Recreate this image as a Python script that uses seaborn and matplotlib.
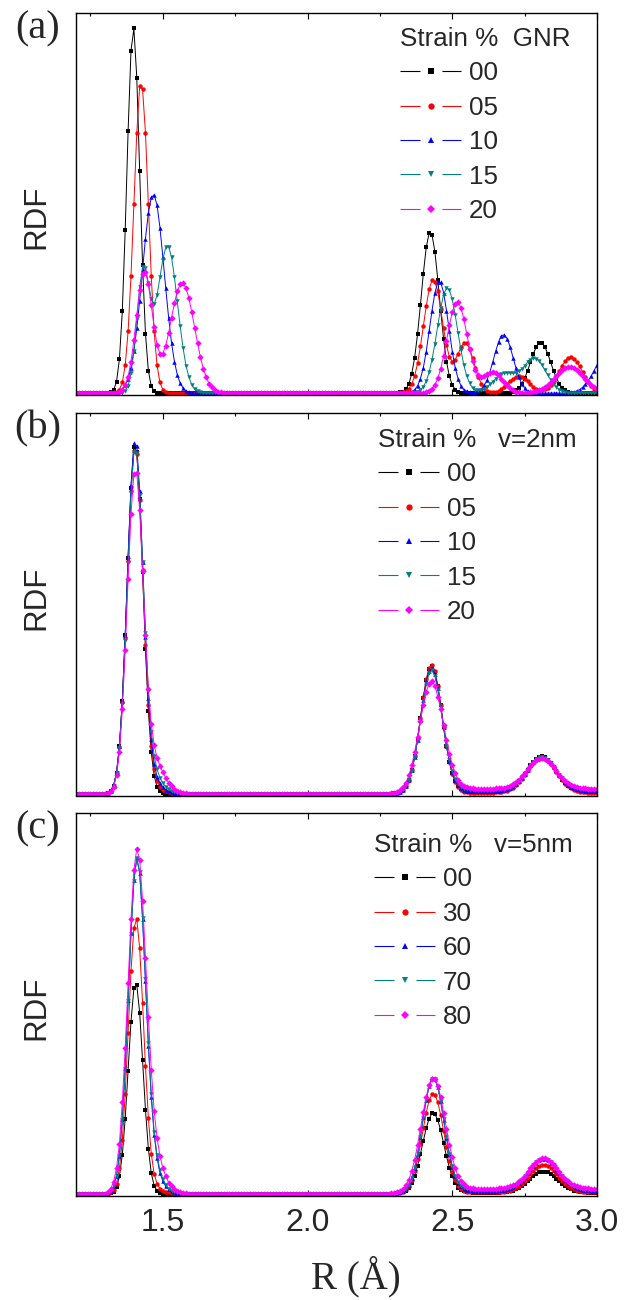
import numpy as np
import pandas as pd
import matplotlib
matplotlib.use("Agg")
import matplotlib.pyplot as plt
import seaborn as sns
from matplotlib.lines import Line2D
from matplotlib.ticker import MultipleLocator, NullLocator, FormatStrFormatter

# ---------------------------------------------------------------------------
# Data: RDF on a 0.01 Å grid (1.20 ... 3.00 Å).
# Values are listed for R = 1.31..1.70 (first shell, 40 values) and
# R = 2.21..3.00 (second / third shells, 80 values); elsewhere the RDF is 0.
# Units: arbitrary (percent of the panel height).
# ---------------------------------------------------------------------------
R_START, R_STEP, N_R = 1.20, 0.01, 181
SEG1_START, SEG2_START = 1.31, 2.21

# ---------------- panel (a): GNR ----------------
a_strains = ["00", "05", "10", "15", "20"]
a00_1 = [0, 0.2, 0.8, 3.0, 8.9, 21.5, 42.9, 68.8, 90.0, 95.8,
         82.9, 58.4, 33.6, 15.6, 5.9, 1.8, 0.5, 0.1, 0, 0,
         0, 0, 0, 0, 0, 0, 0, 0, 0, 0,
         0, 0, 0, 0, 0, 0, 0, 0, 0, 0]
a00_2 = [0, 0, 0, 0, 0, 0, 0, 0, 0, 0,
         0.1, 0.2, 0.4, 1.1, 2.4, 5.1, 9.3, 15.5, 23.2, 31.4,
         38.3, 42.0, 41.6, 37.1, 29.8, 21.6, 14.2, 8.3, 4.4, 2.1,
         0.9, 0.3, 0.1, 0, 0, 0, 0, 0, 0, 0,
         0, 0, 0, 0, 0, 0, 0, 0, 0.1, 0.1,
         0.3, 0.7, 1.3, 2.4, 3.9, 5.8, 8.1, 10.3, 12.1, 13.2,
         13.2, 12.1, 10.3, 8.1, 5.8, 3.9, 2.4, 1.3, 0.7, 0.3,
         0.1, 0.1, 0, 0, 0, 0, 0, 0, 0, 0]
a05_1 = [0, 0, 0.1, 0.2, 0.9, 2.8, 7.3, 16.2, 30.8, 49.8,
         68.4, 80.6, 79.8, 68.4, 49.8, 30.8, 16.2, 7.3, 2.8, 0.9,
         0.2, 0.1, 0, 0, 0, 0, 0, 0, 0, 0,
         0, 0, 0, 0, 0, 0, 0, 0, 0, 0]
a05_2 = [0, 0, 0, 0, 0, 0, 0, 0, 0, 0,
         0, 0.1, 0.2, 0.5, 1.2, 2.4, 4.5, 7.8, 12.3, 17.5,
         22.8, 27.3, 29.6, 29.3, 26.7, 22.0, 17.0, 12.6, 9.5, 8.3,
         8.8, 10.3, 12.0, 13.2, 13.1, 11.6, 9.3, 6.7, 4.3, 2.5,
         1.3, 0.6, 0.3, 0.3, 0.3, 0.6, 1.0, 1.6, 2.3, 3.1,
         3.8, 4.3, 4.5, 4.3, 3.8, 3.1, 2.3, 1.7, 1.1, 0.8,
         0.7, 1.0, 1.4, 2.1, 3.1, 4.4, 5.8, 7.2, 8.4, 9.2,
         9.4, 9.0, 8.2, 7.0, 5.5, 4.2, 2.9, 1.9, 1.2, 0.7]
a10_1 = [0, 0, 0.1, 0.2, 0.5, 1.0, 2.0, 3.8, 6.7, 11.1,
         17.0, 24.3, 32.6, 40.6, 47.3, 51.4, 52.1, 49.4, 43.5, 35.8,
         27.6, 19.8, 13.2, 8.3, 4.8, 2.6, 1.3, 0.6, 0.3, 0.1,
         0, 0, 0, 0, 0, 0, 0, 0, 0, 0]
a10_2 = [0, 0, 0, 0, 0, 0, 0, 0, 0, 0,
         0, 0, 0, 0, 0.1, 0.4, 0.9, 1.9, 3.8, 6.7,
         10.9, 16.3, 21.7, 26.4, 29.1, 29.1, 26.4, 21.7, 16.3, 10.9,
         6.7, 3.8, 1.9, 0.9, 0.5, 0.3, 0.2, 0.3, 0.6, 1.0,
         2.0, 3.4, 5.6, 8.2, 11.0, 13.5, 15.1, 15.3, 14.3, 12.1,
         9.3, 6.6, 4.2, 2.5, 1.3, 0.6, 0.3, 0.1, 0, 0,
         0, 0, 0, 0, 0, 0, 0, 0, 0, 0.1,
         0.2, 0.3, 0.6, 0.9, 1.5, 2.3, 3.3, 4.5, 5.9, 7.4]
a15_1 = [0, 0, 0, 0, 0, 0.1, 0.6, 1.9, 5.2, 11.1,
         19.4, 27.9, 33.1, 33.0, 28.9, 24.8, 23.4, 25.7, 30.4, 35.1,
         38.3, 38.5, 35.7, 30.5, 24.1, 17.5, 11.8, 7.2, 4.2, 2.2,
         1.0, 0.5, 0.2, 0.1, 0, 0, 0, 0, 0, 0]
a15_2 = [0, 0, 0, 0, 0, 0, 0, 0, 0, 0,
         0, 0, 0, 0, 0, 0.1, 0.1, 0.4, 0.8, 1.7,
         3.1, 5.5, 8.8, 13.0, 17.8, 22.3, 25.9, 27.6, 27.1, 24.6,
         20.6, 15.8, 11.3, 7.3, 4.5, 2.6, 1.3, 0.8, 0.7, 0.8,
         1.1, 1.6, 2.3, 3.0, 3.8, 4.5, 4.9, 5.3, 5.3, 5.3,
         5.3, 5.4, 5.8, 6.3, 7.2, 8.1, 8.8, 9.1, 9.0, 8.5,
         7.4, 6.1, 4.7, 3.5, 2.4, 1.5, 0.9, 0.5, 0.3, 0.1,
         0.1, 0, 0, 0, 0, 0, 0, 0, 0, 0]
a20_1 = [0, 0, 0, 0.1, 0.3, 0.8, 2.0, 4.3, 8.3, 13.9,
         20.6, 27.1, 31.2, 31.8, 28.6, 23.1, 17.3, 12.7, 10.3, 10.4,
         12.5, 15.8, 19.8, 23.6, 26.8, 28.6, 28.9, 27.6, 25.0, 21.2,
         17.2, 13.1, 9.4, 6.4, 4.1, 2.5, 1.5, 0.8, 0.4, 0.2]
a20_2 = [0, 0, 0, 0, 0, 0, 0, 0, 0, 0,
         0, 0, 0, 0, 0, 0, 0, 0, 0, 0.1,
         0.2, 0.5, 1.1, 2.1, 3.9, 6.4, 9.8, 13.7, 17.8, 21.3,
         23.5, 23.9, 22.4, 19.4, 15.6, 11.7, 8.4, 6.1, 4.7, 4.3,
         4.5, 5.0, 5.4, 5.5, 5.3, 4.7, 3.8, 2.9, 2.0, 1.3,
         0.7, 0.4, 0.2, 0.1, 0.1, 0.1, 0.2, 0.3, 0.5, 0.7,
         1.1, 1.6, 2.2, 2.9, 3.7, 4.5, 5.3, 6.0, 6.5, 6.8,
         6.8, 6.5, 6.0, 5.3, 4.5, 3.7, 2.9, 2.2, 1.6, 1.1]

# ---------------- panel (b): v = 2 nm ----------------
b_strains = ["00", "05", "10", "15", "20"]
b00_1 = [0.2, 0.7, 2.1, 5.5, 12.4, 24.4, 41.6, 61.9, 80.4, 91.0,
         89.8, 77.3, 58.1, 37.9, 21.7, 10.8, 4.7, 1.7, 0.6, 0.2,
         0, 0, 0, 0, 0, 0, 0, 0, 0, 0,
         0, 0, 0, 0, 0, 0, 0, 0, 0, 0]
b00_2 = [0, 0, 0, 0, 0, 0, 0, 0, 0, 0.1,
         0.2, 0.5, 1.0, 2.0, 3.6, 6.2, 9.8, 14.4, 19.8, 25.2,
         29.8, 32.8, 33.6, 31.9, 28.2, 23.2, 17.5, 12.6, 8.4, 5.3,
         3.3, 1.9, 1.2, 0.8, 0.6, 0.5, 0.5, 0.5, 0.5, 0.5,
         0.5, 0.5, 0.5, 0.5, 0.5, 0.5, 0.6, 0.8, 1.0, 1.3,
         1.8, 2.4, 3.2, 4.1, 5.2, 6.3, 7.4, 8.4, 9.2, 9.7,
         9.8, 9.5, 8.9, 8.1, 7.0, 5.9, 4.8, 3.7, 2.8, 2.1,
         1.6, 1.2, 0.9, 0.7, 0.6, 0.5, 0.4, 0.4, 0.4, 0.4]
b05_1 = [0.2, 0.7, 2.1, 5.4, 12.2, 24.0, 40.9, 61.1, 79.5, 90.1,
         89.2, 77.2, 58.7, 39.1, 23.4, 12.6, 6.4, 3.3, 1.8, 1.0,
         0.6, 0.4, 0.2, 0.1, 0.1, 0, 0, 0, 0, 0,
         0, 0, 0, 0, 0, 0, 0, 0, 0, 0]
b05_2 = [0, 0, 0, 0, 0, 0, 0, 0, 0, 0.1,
         0.2, 0.5, 1.0, 2.0, 3.7, 6.2, 9.9, 14.5, 19.9, 25.3,
         30.0, 33.0, 33.8, 32.1, 28.4, 23.3, 17.6, 12.6, 8.3, 5.1,
         3.0, 1.7, 0.9, 0.5, 0.3, 0.2, 0.2, 0.2, 0.2, 0.2,
         0.2, 0.2, 0.2, 0.2, 0.3, 0.3, 0.4, 0.6, 0.8, 1.1,
         1.6, 2.2, 3.0, 3.9, 4.9, 6.1, 7.2, 8.2, 8.9, 9.4,
         9.5, 9.2, 8.6, 7.8, 6.7, 5.6, 4.5, 3.5, 2.6, 1.9,
         1.4, 1.0, 0.7, 0.5, 0.4, 0.3, 0.2, 0.2, 0.2, 0.2]
b10_1 = [0.2, 0.7, 2.1, 5.5, 12.4, 24.4, 41.6, 62.3, 81.0, 92.0,
         91.3, 79.4, 60.8, 41.1, 25.2, 14.3, 7.9, 4.4, 2.7, 1.7,
         1.0, 0.6, 0.4, 0.2, 0.1, 0, 0, 0, 0, 0,
         0, 0, 0, 0, 0, 0, 0, 0, 0, 0]
b10_2 = [0, 0, 0, 0, 0, 0, 0, 0, 0, 0.1,
         0.2, 0.5, 1.0, 1.9, 3.6, 6.1, 9.6, 14.2, 19.4, 24.7,
         29.3, 32.2, 33.0, 31.4, 27.7, 22.8, 17.4, 12.5, 8.6, 5.7,
         3.5, 2.2, 1.4, 1.0, 0.8, 0.7, 0.7, 0.7, 0.7, 0.7,
         0.7, 0.7, 0.7, 0.7, 0.8, 0.8, 0.9, 1.0, 1.3, 1.6,
         2.0, 2.6, 3.3, 4.2, 5.2, 6.3, 7.4, 8.3, 9.0, 9.5,
         9.6, 9.4, 8.8, 8.0, 7.0, 5.9, 4.8, 3.9, 3.0, 2.3,
         1.8, 1.4, 1.2, 1.0, 0.9, 0.8, 0.8, 0.7, 0.7, 0.7]
b15_1 = [0.2, 0.7, 2.0, 5.3, 12.0, 23.6, 40.2, 60.5, 78.9, 89.7,
         89.5, 78.4, 60.9, 42.2, 26.9, 16.3, 10.0, 6.4, 4.2, 2.8,
         1.7, 1.1, 0.6, 0.3, 0.2, 0.1, 0, 0, 0, 0,
         0, 0, 0, 0, 0, 0, 0, 0, 0, 0]
b15_2 = [0, 0, 0, 0, 0, 0, 0, 0, 0, 0.1,
         0.2, 0.5, 1.0, 1.9, 3.5, 6.0, 9.5, 13.9, 19.1, 24.3,
         28.7, 31.6, 32.4, 30.8, 27.2, 22.6, 17.3, 12.6, 8.7, 5.9,
         3.8, 2.5, 1.7, 1.3, 1.1, 1.0, 1.0, 1.0, 1.0, 1.0,
         1.0, 1.0, 1.0, 1.0, 1.1, 1.1, 1.2, 1.3, 1.5, 1.8,
         2.3, 2.8, 3.6, 4.4, 5.4, 6.4, 7.4, 8.4, 9.1, 9.5,
         9.6, 9.4, 8.8, 8.0, 7.1, 6.0, 5.0, 4.1, 3.2, 2.6,
         2.1, 1.7, 1.4, 1.3, 1.2, 1.1, 1.1, 1.0, 1.0, 1.0]
b20_1 = [0.2, 0.6, 1.8, 4.8, 10.8, 22.1, 37.8, 56.3, 73.5, 84.0,
         84.2, 74.4, 58.6, 41.7, 27.6, 18.4, 12.8, 9.4, 7.3, 5.6,
         4.1, 2.9, 1.9, 1.2, 0.7, 0.4, 0.2, 0.1, 0, 0,
         0, 0, 0, 0, 0, 0, 0, 0, 0, 0]
b20_2 = [0, 0, 0, 0, 0, 0, 0, 0, 0.1, 0.2,
         0.5, 0.9, 1.7, 2.9, 4.8, 7.4, 10.9, 14.9, 19.1, 23.4,
         26.8, 28.9, 29.5, 28.3, 25.5, 22.1, 18.1, 14.1, 10.5, 7.6,
         5.3, 3.7, 2.6, 2.0, 1.7, 1.5, 1.4, 1.3, 1.3, 1.3,
         1.3, 1.3, 1.3, 1.3, 1.4, 1.4, 1.5, 1.6, 1.8, 2.1,
         2.5, 3.0, 3.7, 4.5, 5.4, 6.4, 7.3, 8.1, 8.8, 9.2,
         9.3, 9.1, 8.6, 7.8, 6.9, 6.0, 5.0, 4.1, 3.4, 2.8,
         2.3, 2.0, 1.7, 1.6, 1.4, 1.4, 1.3, 1.3, 1.3, 1.3]

# ---------------- panel (c): v = 5 nm ----------------
c_strains = ["00", "30", "60", "70", "80"]
c00_1 = [0, 0.1, 0.5, 1.7, 4.5, 10.2, 19.7, 32.3, 45.2, 53.9,
         54.8, 47.5, 35.0, 22.0, 11.8, 5.4, 2.1, 0.7, 0.2, 0,
         0, 0, 0, 0, 0, 0, 0, 0, 0, 0,
         0, 0, 0, 0, 0, 0, 0, 0, 0, 0]
c00_2 = [0, 0, 0, 0, 0, 0, 0, 0, 0, 0,
         0.1, 0.2, 0.4, 0.8, 1.6, 2.9, 4.7, 7.3, 10.5, 13.9,
         17.2, 19.7, 21.1, 20.9, 19.3, 16.6, 13.2, 9.8, 6.8, 4.5,
         2.8, 1.6, 0.9, 0.6, 0.4, 0.3, 0.2, 0.2, 0.2, 0.2,
         0.2, 0.2, 0.2, 0.2, 0.2, 0.2, 0.3, 0.3, 0.4, 0.6,
         0.8, 1.1, 1.5, 2.0, 2.6, 3.3, 3.9, 4.6, 5.1, 5.6,
         5.8, 5.8, 5.6, 5.1, 4.6, 3.9, 3.3, 2.6, 2.0, 1.5,
         1.1, 0.8, 0.6, 0.4, 0.3, 0.3, 0.2, 0.2, 0.2, 0.2]
c30_1 = [0.1, 0.3, 0.9, 2.6, 6.6, 14.0, 26.3, 42.1, 58.5, 69.8,
         72.2, 64.4, 50.1, 33.5, 19.9, 10.5, 5.2, 2.6, 1.3, 0.8,
         0.4, 0.3, 0.2, 0.1, 0, 0, 0, 0, 0, 0,
         0, 0, 0, 0, 0, 0, 0, 0, 0, 0]
c30_2 = [0, 0, 0, 0, 0, 0, 0, 0, 0, 0,
         0.1, 0.2, 0.5, 1.1, 2.0, 3.6, 5.9, 9.1, 13.0, 17.2,
         21.3, 24.5, 26.1, 26.0, 24.0, 20.6, 16.4, 12.3, 8.6, 5.7,
         3.5, 2.1, 1.2, 0.7, 0.5, 0.4, 0.3, 0.3, 0.3, 0.3,
         0.3, 0.3, 0.3, 0.3, 0.3, 0.4, 0.4, 0.5, 0.6, 0.8,
         1.1, 1.5, 2.0, 2.6, 3.4, 4.2, 5.1, 5.9, 6.7, 7.2,
         7.5, 7.5, 7.2, 6.7, 5.9, 5.1, 4.2, 3.4, 2.6, 2.0,
         1.5, 1.1, 0.8, 0.6, 0.5, 0.4, 0.4, 0.3, 0.3, 0.3]
c60_1 = [0.2, 0.7, 1.9, 4.7, 10.0, 19.5, 33.0, 50.9, 68.5, 82.4,
         88.1, 84.3, 72.1, 55.8, 38.9, 25.4, 15.5, 9.4, 5.5, 3.3,
         1.9, 1.1, 0.6, 0.3, 0.2, 0.1, 0, 0, 0, 0,
         0, 0, 0, 0, 0, 0, 0, 0, 0, 0]
c60_2 = [0, 0, 0, 0, 0, 0, 0, 0, 0, 0,
         0.1, 0.3, 0.6, 1.2, 2.3, 4.1, 6.8, 10.5, 15.0, 20.0,
         24.7, 28.4, 30.3, 30.2, 28.0, 24.2, 19.4, 14.6, 10.3, 7.0,
         4.5, 2.9, 1.9, 1.3, 1.0, 0.9, 0.8, 0.8, 0.8, 0.8,
         0.8, 0.8, 0.8, 0.8, 0.8, 0.9, 0.9, 1.0, 1.2, 1.4,
         1.7, 2.2, 2.8, 3.5, 4.4, 5.3, 6.3, 7.3, 8.1, 8.7,
         9.1, 9.1, 8.7, 8.1, 7.3, 6.3, 5.3, 4.4, 3.5, 2.8,
         2.2, 1.7, 1.4, 1.2, 1.0, 0.9, 0.9, 0.8, 0.8, 0.8]
c70_1 = [0.2, 0.7, 1.9, 4.7, 9.9, 19.4, 32.8, 50.7, 68.2, 82.2,
         88.1, 84.4, 72.4, 56.4, 39.7, 26.3, 16.3, 10.1, 6.1, 3.8,
         2.2, 1.2, 0.7, 0.4, 0.2, 0.1, 0, 0, 0, 0,
         0, 0, 0, 0, 0, 0, 0, 0, 0, 0]
c70_2 = [0, 0, 0, 0, 0, 0, 0, 0, 0, 0,
         0.1, 0.3, 0.6, 1.2, 2.3, 4.1, 6.7, 10.4, 14.9, 19.9,
         24.5, 28.2, 30.1, 30.0, 27.9, 24.2, 19.5, 14.8, 10.5, 7.2,
         4.7, 3.1, 2.1, 1.5, 1.2, 1.0, 0.9, 0.9, 0.9, 0.9,
         0.9, 0.9, 0.9, 0.9, 0.9, 1.0, 1.0, 1.1, 1.3, 1.5,
         1.8, 2.3, 2.9, 3.6, 4.5, 5.4, 6.4, 7.4, 8.2, 8.8,
         9.2, 9.2, 8.8, 8.2, 7.4, 6.4, 5.4, 4.5, 3.6, 2.9,
         2.3, 1.8, 1.5, 1.3, 1.1, 1.0, 1.0, 0.9, 0.9, 0.9]
c80_1 = [0.5, 1.3, 3.1, 6.7, 13.1, 24.0, 38.3, 55.3, 72.1, 85.1,
         90.6, 87.7, 77.0, 62.0, 46.3, 32.6, 21.8, 14.6, 9.9, 6.8,
         4.6, 2.9, 1.9, 1.2, 0.7, 0.4, 0.2, 0.1, 0, 0,
         0, 0, 0, 0, 0, 0, 0, 0, 0, 0]
c80_2 = [0, 0, 0, 0, 0, 0, 0, 0, 0.1, 0.1,
         0.3, 0.6, 1.2, 2.2, 3.7, 6.0, 8.9, 12.7, 17.0, 21.4,
         25.4, 28.5, 30.0, 30.1, 28.4, 25.4, 21.3, 17.1, 12.9, 9.5,
         6.7, 4.6, 3.3, 2.4, 1.8, 1.6, 1.4, 1.3, 1.3, 1.3,
         1.3, 1.3, 1.3, 1.3, 1.3, 1.4, 1.4, 1.5, 1.7, 1.9,
         2.2, 2.6, 3.2, 3.9, 4.7, 5.7, 6.6, 7.6, 8.4, 8.9,
         9.3, 9.3, 8.9, 8.4, 7.6, 6.6, 5.7, 4.7, 3.9, 3.2,
         2.6, 2.2, 1.9, 1.7, 1.5, 1.4, 1.4, 1.3, 1.3, 1.3]

panel_tags = ["GNR", "v=2nm", "v=5nm"]
panel_letters = ["(a)", "(b)", "(c)"]

# ---------------------------------------------------------------------------
R_grid = np.round(R_START + R_STEP * np.arange(N_R), 2)


def assemble(seg1, seg2):
    y = np.zeros(N_R)
    for start, seg in ((SEG1_START, seg1), (SEG2_START, seg2)):
        i = int(round((start - R_START) / R_STEP))
        n = min(len(seg), N_R - i)
        y[i:i + n] = np.asarray(seg[:n], dtype=float)
    return y


def make_df(strains, segs):
    frames = []
    for s, (s1, s2) in zip(strains, segs):
        frames.append(pd.DataFrame({"R": R_grid, "RDF": assemble(s1, s2), "Strain": s}))
    return pd.concat(frames, ignore_index=True)


panels = [
    (a_strains, [(a00_1, a00_2), (a05_1, a05_2), (a10_1, a10_2), (a15_1, a15_2), (a20_1, a20_2)]),
    (b_strains, [(b00_1, b00_2), (b05_1, b05_2), (b10_1, b10_2), (b15_1, b15_2), (b20_1, b20_2)]),
    (c_strains, [(c00_1, c00_2), (c30_1, c30_2), (c60_1, c60_2), (c70_1, c70_2), (c80_1, c80_2)]),
]

colors = ["#000000", "#ff0000", "#0000ff", "#008080", "#ff00ff"]
markers = ["s", "o", "^", "v", "D"]

sns.set_style("ticks")
plt.rcParams["font.family"] = ["Liberation Sans", "DejaVu Sans"]
plt.rcParams["lines.scale_dashes"] = False
SERIF = ["Liberation Serif", "DejaVu Serif"]

W, H = 624, 1300
fig = plt.figure(figsize=(W / 100, H / 100), dpi=100)

ax_left, ax_right = 76, 597
ax_tops = [12.5, 413, 813]
ax_h = 382.5
legend_left = [400, 378, 374]
legend_top_off = [14.5, 15, 20]
title_gap = ["  ", "   ", "   "]
ylabel_y = [0.466, 0.518, 0.49]

for k, (strains, segs) in enumerate(panels):
    top = ax_tops[k]
    ax = fig.add_axes([ax_left / W, 1 - (top + ax_h) / H, (ax_right - ax_left) / W, ax_h / H])
    df = make_df(strains, segs)
    sns.lineplot(data=df, x="R", y="RDF", hue="Strain", style="Strain",
                 hue_order=strains, style_order=strains, palette=colors,
                 markers=markers, dashes=False, estimator=None, sort=False,
                 linewidth=0.7, markersize=3.2, markeredgewidth=0,
                 legend=False, ax=ax)
    ax.set_xlim(1.2, 3.0)
    ax.set_ylim(-0.5, 100)
    ax.xaxis.set_major_locator(MultipleLocator(0.5))
    ax.xaxis.set_minor_locator(MultipleLocator(0.25))
    ax.xaxis.set_major_formatter(FormatStrFormatter("%.1f"))
    ax.yaxis.set_major_locator(NullLocator())
    ax.yaxis.set_minor_locator(NullLocator())
    ax.tick_params(axis="x", which="both", direction="in", top=True, bottom=True,
                   width=0.8, color="black", labelsize=23, pad=9)
    ax.tick_params(axis="x", which="major", length=4.5)
    ax.tick_params(axis="x", which="minor", length=2.5)
    if k < 2:
        ax.tick_params(axis="x", which="both", labelbottom=False)
    for sp in ax.spines.values():
        sp.set_linewidth(1.0)
        sp.set_color("black")
        sp.set_visible(True)
    ax.set_xlabel("")
    ax.set_ylabel("RDF", fontsize=22.5, va="center")
    ax.yaxis.set_label_coords(-0.077, ylabel_y[k])

    handles = [Line2D([], [], color=c, marker=m, markersize=4.5, markeredgewidth=0,
                      lw=0.8, linestyle=(0, (14.4, 15.8, 14.4, 80)))
               for c, m in zip(colors, markers)]
    ax.legend(handles, strains, title="Strain %" + title_gap[k] + panel_tags[k],
              loc="upper left",
              bbox_to_anchor=((legend_left[k] - ax_left) / (ax_right - ax_left),
                              1 - legend_top_off[k] / ax_h),
              frameon=False, fontsize=18.7, title_fontsize=18.7, alignment="left",
              handlelength=2.35, handletextpad=0.3, labelspacing=0.40,
              borderpad=0, borderaxespad=0, numpoints=1)

    fig.text(37.5 / W, 1 - (top + 16) / H, panel_letters[k], family=SERIF,
             fontsize=29, ha="center", va="center")

fig.text(356 / W, 1 - 1277 / H, "R (Å)", family=SERIF, fontsize=28, ha="center", va="center")

fig.savefig("out.png", dpi=100)
